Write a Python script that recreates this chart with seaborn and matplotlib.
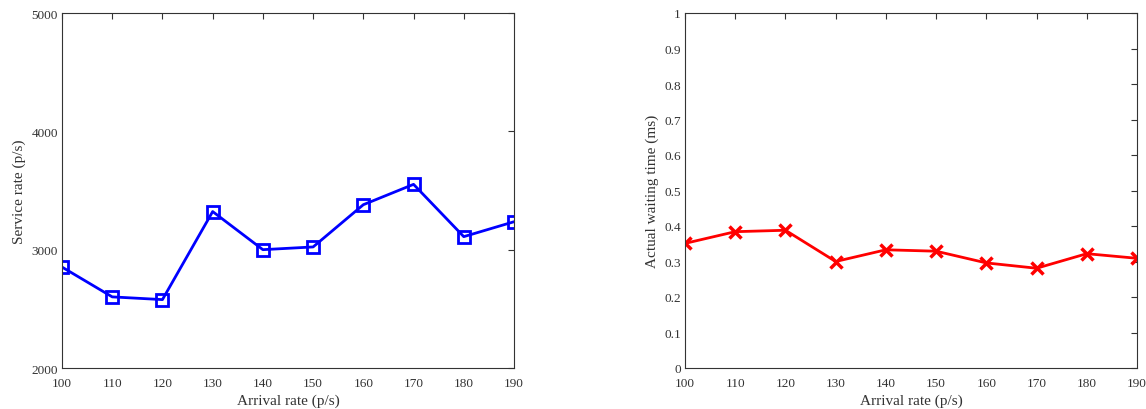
import numpy as np
import pandas as pd
import matplotlib
matplotlib.use('Agg')
import matplotlib.pyplot as plt
import seaborn as sns

# ---- data ----
arrival_rate = [100, 110, 120, 130, 140, 150, 160, 170, 180, 190]
service_rate = [2853, 2601, 2578, 3322, 3000, 3023, 3380, 3552, 3110, 3236]
waiting_time = [0.351, 0.384, 0.388, 0.300, 0.333, 0.329, 0.296, 0.281, 0.322, 0.309]

df = pd.DataFrame({'arrival': arrival_rate,
                   'service': service_rate,
                   'wait': waiting_time})

sns.set_theme(style='white')
plt.rcParams['font.family'] = ['Liberation Serif', 'DejaVu Serif']
text_col = '#333333'

fig = plt.figure(figsize=(11.46, 4.10), dpi=100)
ax1 = fig.add_axes([62 / 1146, 41 / 410, 452 / 1146, 355 / 410])
ax2 = fig.add_axes([685 / 1146, 41 / 410, 452 / 1146, 355 / 410])

# left panel: service rate
sns.lineplot(data=df, x='arrival', y='service', ax=ax1, color='blue',
             linewidth=2, marker='s', markersize=9, markerfacecolor='none',
             markeredgecolor='blue', markeredgewidth=2)
ax1.set_ylim(2000, 5000)
ax1.set_yticks([2000, 3000, 4000, 5000])
ax1.set_ylabel('Service rate (p/s)', color=text_col, fontsize=11, labelpad=4)

# right panel: waiting time
sns.lineplot(data=df, x='arrival', y='wait', ax=ax2, color='red',
             linewidth=2, marker='x', markersize=8,
             markeredgecolor='red', markeredgewidth=2.5)
ax2.set_ylim(0, 1)
ax2.set_yticks(np.round(np.arange(0, 1.01, 0.1), 1))
ax2.set_yticklabels(['0', '0.1', '0.2', '0.3', '0.4', '0.5',
                     '0.6', '0.7', '0.8', '0.9', '1'])
ax2.set_ylabel('Actual waiting time (ms)', color=text_col, fontsize=11, labelpad=4)

for ax in (ax1, ax2):
    ax.set_xlim(100, 190)
    ax.set_xticks(arrival_rate)
    ax.set_xlabel('Arrival rate (p/s)', color=text_col, fontsize=11, labelpad=3.5)
    ax.tick_params(direction='in', top=True, right=True, length=4,
                   width=0.8, colors='#333333', labelcolor=text_col,
                   labelsize=9.5, pad=3)
    ax.tick_params(axis='x', pad=6.5)
    for s in ax.spines.values():
        s.set_color('#333333')
        s.set_linewidth(0.8)
    ax.grid(False)

fig.savefig('out.png', dpi=100)
